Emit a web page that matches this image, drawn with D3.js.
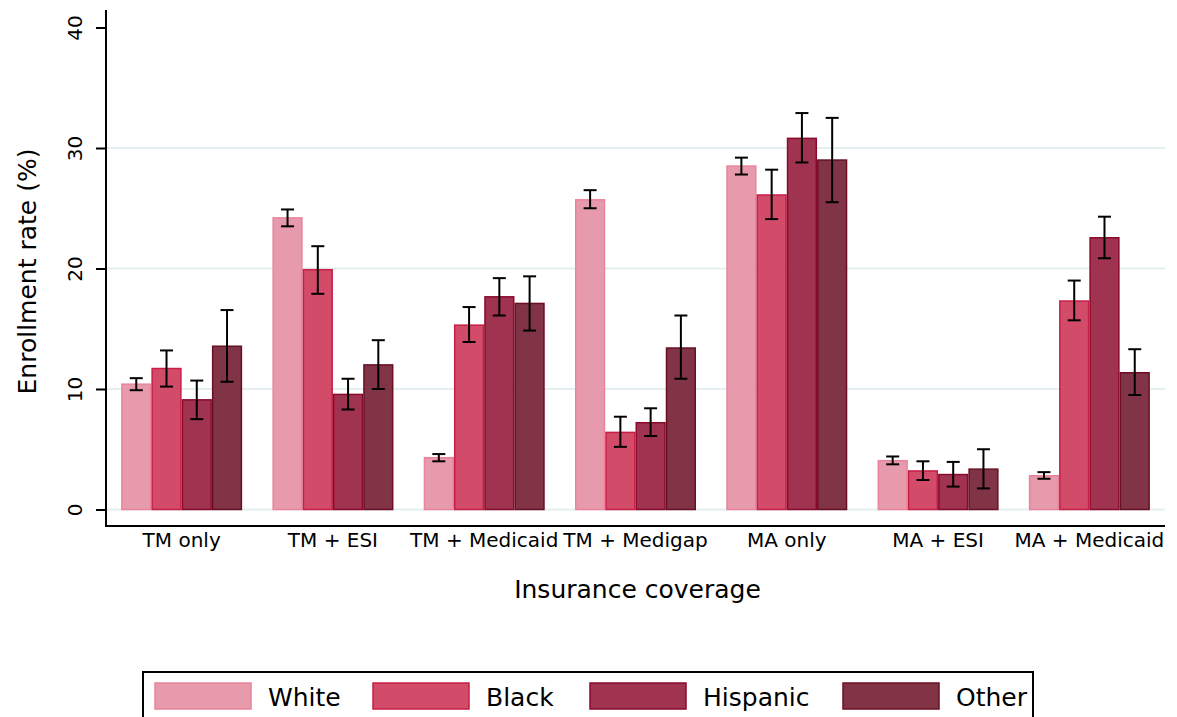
<!DOCTYPE html>
<html>
<head>
<meta charset="utf-8">
<script src="https://cdn.jsdelivr.net/npm/d3@7"></script>
<style>
  body { margin: 0; background: #fff; }
  svg { font-family: "DejaVu Sans", sans-serif; }
</style>
</head>
<body>
<div id="viz"></div>
<script>
// categories and groups
let categories = ['TM only', 'TM + ESI', 'TM + Medicaid', 'TM + Medigap', 'MA only', 'MA + ESI', 'MA + Medicaid'];
let groups = ['White', 'Black', 'Hispanic', 'Other'];
let yTicks = [0, 10, 20, 30, 40];

// enrollment rate (%) and 95% CI bounds
let white      = [10.4, 24.2, 4.3, 25.7, 28.5, 4.05, 2.8];
let whiteLo    = [9.9, 23.5, 4.0, 25.0, 27.8, 3.75, 2.55];
let whiteHi    = [10.9, 24.9, 4.6, 26.5, 29.2, 4.4, 3.1];
let black      = [11.7, 19.9, 15.3, 6.4, 26.1, 3.2, 17.3];
let blackLo    = [10.2, 17.9, 13.9, 5.2, 24.1, 2.45, 15.7];
let blackHi    = [13.2, 21.85, 16.8, 7.7, 28.2, 4.0, 19.0];
let hispanic   = [9.1, 9.55, 17.65, 7.2, 30.8, 2.9, 22.55];
let hispanicLo = [7.5, 8.3, 16.1, 6.1, 28.8, 1.9, 20.85];
let hispanicHi = [10.7, 10.85, 19.2, 8.4, 32.9, 3.95, 24.3];
let other      = [13.55, 12.0, 17.1, 13.4, 29.0, 3.35, 11.35];
let otherLo    = [10.6, 10.0, 14.85, 10.85, 25.5, 1.75, 9.5];
let otherHi    = [16.55, 14.05, 19.35, 16.1, 32.5, 5.0, 13.3];

let fills   = ['#e69aac', '#d24c6a', '#9f3350', '#803446'];
let strokes = ['#e8849b', '#c81e46', '#8a0a2d', '#6a0f24'];

let values = [white, black, hispanic, other],
    lows = [whiteLo, blackLo, hispanicLo, otherLo],
    highs = [whiteHi, blackHi, hispanicHi, otherHi];

let rows = [];
categories.forEach(function(c, i) {
  groups.forEach(function(g, j) {
    rows.push({ cat: c, grp: g, gi: j, v: values[j][i], lo: lows[j][i], hi: highs[j][i] });
  });
});

let width = 1177, height = 717,
    pLeft = 106, pRight = 1165, pTop = 10, pBottom = 526;

let svg = d3.select('#viz').append('svg')
  .attr('width', width)
  .attr('height', height);

let yScale = d3.scaleLinear()
  .domain([0, 40])
  .range([509.5, 27.5]);

let xScale = d3.scaleBand()
  .domain(categories)
  .range([pLeft, pRight])
  .paddingInner(0.2)
  .paddingOuter(0.1);

let xSub = d3.scaleBand()
  .domain(groups)
  .range([0, xScale.bandwidth()]);

// gridlines
svg.append('g')
  .selectAll('line').data(yTicks.slice(0, 4))
  .enter().append('line')
  .attr('x1', pLeft)
  .attr('x2', pRight)
  .attr('y1', function(d) { return yScale(d); })
  .attr('y2', function(d) { return yScale(d); })
  .attr('stroke', '#e5eef0')
  .attr('stroke-width', 2);

// bars
svg.append('g')
  .selectAll('rect').data(rows)
  .enter().append('rect')
  .attr('x', function(d) { return xScale(d.cat) + xSub(d.grp) + 0.75; })
  .attr('width', xSub.bandwidth() - 1.5)
  .attr('y', function(d) { return yScale(d.v); })
  .attr('height', function(d) { return yScale(0) - yScale(d.v); })
  .attr('fill', function(d) { return fills[d.gi]; })
  .attr('stroke', function(d) { return strokes[d.gi]; })
  .attr('stroke-width', 1.5);

// error bars
let errs = svg.append('g')
  .attr('stroke', '#000')
  .attr('stroke-width', 2)
  .selectAll('g').data(rows)
  .enter().append('g')
  .attr('transform', function(d) {
    return 'translate(' + (xScale(d.cat) + xSub(d.grp) + xSub.bandwidth() / 2) + ',0)';
  });

errs.append('line')
  .attr('y1', function(d) { return yScale(d.lo); })
  .attr('y2', function(d) { return yScale(d.hi); });
errs.append('line')
  .attr('x1', -6.5).attr('x2', 6.5)
  .attr('y1', function(d) { return yScale(d.lo); })
  .attr('y2', function(d) { return yScale(d.lo); });
errs.append('line')
  .attr('x1', -6.5).attr('x2', 6.5)
  .attr('y1', function(d) { return yScale(d.hi); })
  .attr('y2', function(d) { return yScale(d.hi); });

// y axis
let yGuide = svg.append('g')
  .attr('transform', 'translate(' + pLeft + ',0)')
  .call(d3.axisLeft(yScale).tickValues(yTicks).tickSize(10).tickPadding(0));
yGuide.select('.domain').remove();
yGuide.selectAll('.tick line').attr('stroke', '#000').attr('stroke-width', 2);
yGuide.selectAll('.tick text')
  .attr('transform', 'rotate(-90)')
  .attr('x', 0)
  .attr('y', -24)
  .attr('dy', 0)
  .attr('text-anchor', 'middle')
  .attr('fill', '#000')
  .style('font-size', '20px')
  .style('font-family', '"DejaVu Sans", sans-serif');

svg.append('line')
  .attr('x1', pLeft).attr('x2', pLeft)
  .attr('y1', pTop).attr('y2', pBottom)
  .attr('stroke', '#000').attr('stroke-width', 2);

// x axis
let xGuide = svg.append('g')
  .attr('transform', 'translate(0,' + pBottom + ')')
  .call(d3.axisBottom(xScale).tickSize(0).tickPadding(0));
xGuide.select('.domain').remove();
xGuide.selectAll('.tick text')
  .attr('y', 21)
  .attr('dy', 0)
  .attr('fill', '#000')
  .style('font-size', '20px')
  .style('font-family', '"DejaVu Sans", sans-serif');

svg.append('line')
  .attr('x1', pLeft - 1).attr('x2', pRight)
  .attr('y1', pBottom).attr('y2', pBottom)
  .attr('stroke', '#000').attr('stroke-width', 2);

// axis titles
svg.append('text')
  .attr('x', (pLeft + pRight) / 2 + 2)
  .attr('y', 598)
  .attr('text-anchor', 'middle')
  .style('font-size', '25px')
  .text('Insurance coverage');

svg.append('text')
  .attr('transform', 'translate(36,' + ((yScale(0) + yScale(40)) / 2 + 3) + ') rotate(-90)')
  .attr('text-anchor', 'middle')
  .style('font-size', '25px')
  .text('Enrollment rate (%)');

// legend
let legend = svg.append('g');
legend.append('rect')
  .attr('x', 143).attr('y', 672)
  .attr('width', 890).attr('height', 60)
  .attr('fill', '#fff')
  .attr('stroke', '#000')
  .attr('stroke-width', 2);

let legendX = [155, 373, 590, 843];
let items = legend.selectAll('g.item').data(groups)
  .enter().append('g')
  .attr('class', 'item')
  .attr('transform', function(d, i) { return 'translate(' + legendX[i] + ',683)'; });
items.append('rect')
  .attr('width', 96).attr('height', 26)
  .attr('fill', function(d, i) { return fills[i]; })
  .attr('stroke', function(d, i) { return strokes[i]; })
  .attr('stroke-width', 1.5);
items.append('text')
  .attr('x', 113)
  .attr('y', 23)
  .style('font-size', '25px')
  .text(function(d) { return d; });
</script>
</body>
</html>
